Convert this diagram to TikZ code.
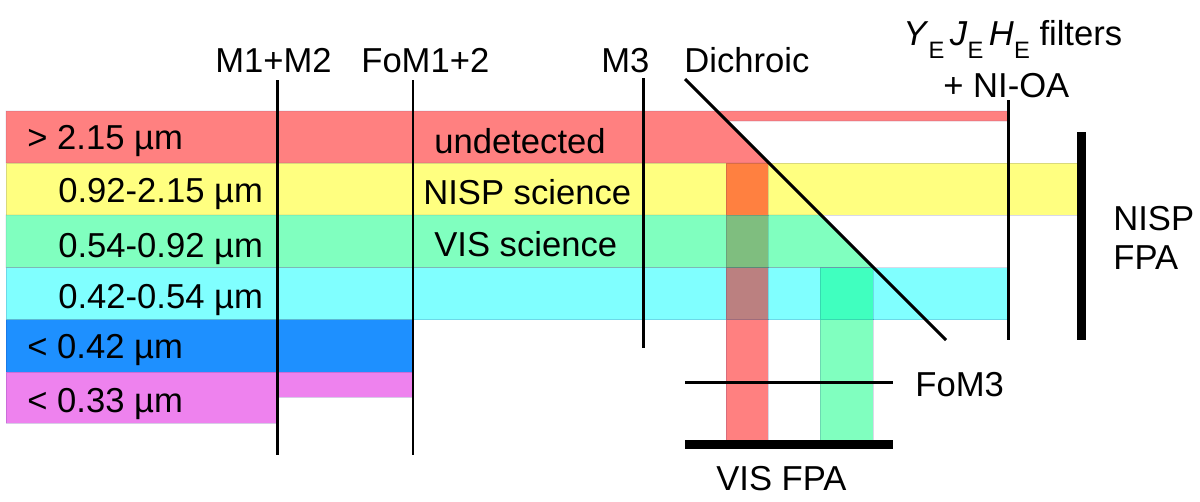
\documentclass[tikz,border=0pt]{standalone}
\usepackage{fontspec}
\setmainfont{Liberation Sans}
\definecolor{bandred}{HTML}{FF8080}
\definecolor{bandyellow}{HTML}{FFFF80}
\definecolor{bandgreen}{HTML}{80FFBF}
\definecolor{bandcyan}{HTML}{80FFFF}
\definecolor{bandblue}{HTML}{1E90FF}
\definecolor{bandviolet}{HTML}{EE82EE}
\newcommand{\filtersub}[1]{\textit{#1}\raisebox{-7.5pt}{\fontsize{13.5}{14}\selectfont E}}
\tikzset{
  band/.style={draw=black!60!blue,draw opacity=0.15,line width=0.5pt},
  optic/.style={line width=1.7pt},
  fpa/.style={line width=5pt},
  lbl/.style={anchor=base west,inner sep=0pt,font=\fontsize{19.7}{23}\selectfont},
}
\begin{document}
\begin{tikzpicture}[x=0.02cm,y=-0.02cm]
    \useasboundingbox (0,0) rectangle (1200,501);
    %beams
    \fill[band,fill=bandred] (6,111)--(1008,111)--(1008,121)--(727,121)--(769,163)--(6,163)--cycle;
    \fill[band,fill=bandyellow] (6,163) rectangle (1080,215);
    \fill[band,fill=bandgreen] (6,215)--(821,215)--(873,267.5)--(6,267.5)--cycle;
    \fill[band,fill=bandcyan] (6,267.5) rectangle (1008,319.5);
    \fill[band,fill=bandblue] (6,319.5) rectangle (412,372);
    \fill[band,fill=bandviolet] (6,372)--(412,372)--(412,397)--(277,397)--(277,423)--(6,423)--cycle;
    %reflected beams
    \fill[band,fill=bandred] (726,319.5) rectangle (768,440);
    \fill[band,fill=bandgreen] (820,319.5) rectangle (873,440);
    \fill[band,fill={rgb,255:red,255;green,128;blue,64}] (726,163) rectangle (768,215);
    \fill[band,fill={rgb,255:red,127;green,190;blue,127}] (726,215) rectangle (768,267.5);
    \fill[band,fill={rgb,255:red,187;green,128;blue,128}] (726,267.5) rectangle (768,319.5);
    \fill[band,fill={rgb,255:red,64;green,255;blue,191}] (820,267.5) rectangle (873,319.5);
    %optics
    \draw[optic] (277.5,80)--(277.5,455);
    \draw[optic] (413,80)--(413,455);
    \draw[optic] (643,78)--(643,348);
    \draw[optic] (685,79)--(946,340);
    \draw[optic] (1008.5,100)--(1008.5,340);
    \draw[optic] (685,382)--(893,382);
    \draw[fpa] (1081.5,132)--(1081.5,340);
    \draw[fpa] (685,444.5)--(893,444.5);
    %labels
    \foreach \x/\y/\t/\n in {27/149/{> 2.15 µm}/red,58/202/{0.92-2.15 µm}/yellow,58/257/{0.54-0.92 µm}/green,58/308/{0.42-0.54 µm}/cyan,27/358/{< 0.42 µm}/blue,27/412/{< 0.33 µm}/violet}
    {\node[lbl] (\n) at (\x,\y) {\t};}
    \node[lbl] (undetected) at (434,153) {undetected};
    \node[lbl] (nisp) at (423,204) {NISP science};
    \node[lbl] (vis) at (434,256) {VIS science};
    \node[lbl] (m12) at (215,72) {M1+M2};
    \node[lbl] (fom12) at (361,72) {FoM1+2};
    \node[lbl] (m3) at (601,72) {M3};
    \node[lbl] (dichroic) at (684,72) {Dichroic};
    \node[lbl] (filters) at (903,45) {\filtersub{Y}\hspace{3.2pt}\filtersub{J}\hspace{3.2pt}\filtersub{H}\hspace{5.5pt}filters};
    \node[lbl] (nioa) at (943,97) {+ NI-OA};
    \node[lbl] (nispa) at (1113,230) {NISP};
    \node[lbl] (nispb) at (1113,269) {FPA};
    \node[lbl] (fom3) at (915,396) {FoM3};
    \node[lbl] (visfpa) at (716,490) {VIS FPA};
\end{tikzpicture}
\end{document}
